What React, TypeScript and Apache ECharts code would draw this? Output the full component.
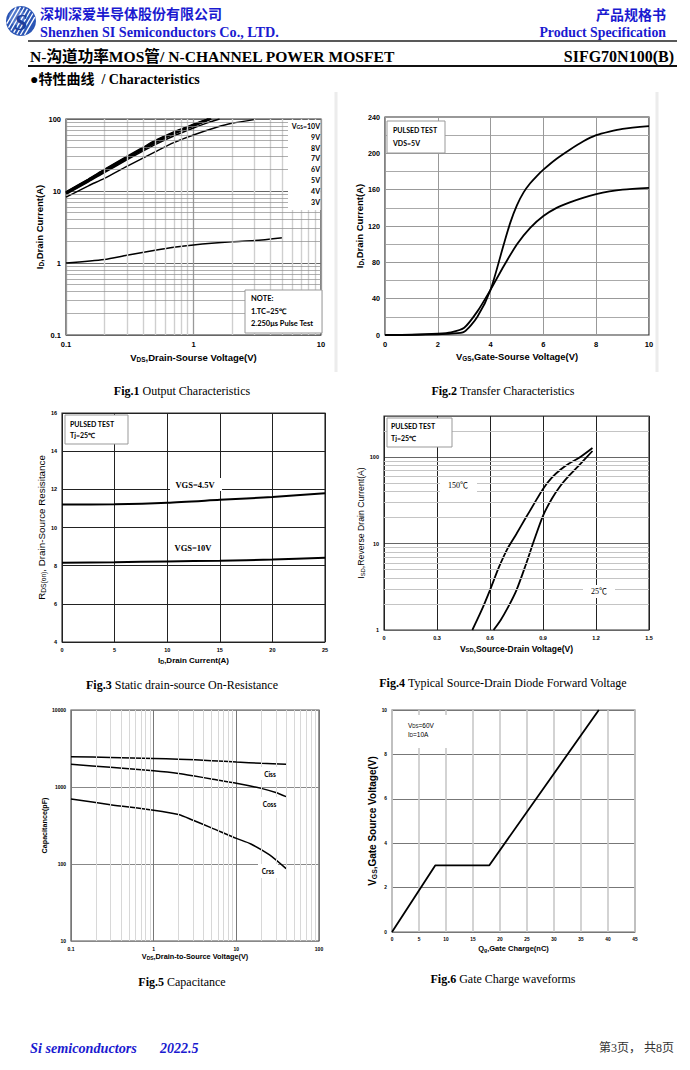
import React, { useEffect, useRef } from "react";
import * as echarts from "echarts";

const SANS = "'Liberation Sans', Arial, sans-serif";
const SERIF = "'Liberation Serif', 'Noto Sans CJK SC', serif";
const CAL = "Lato, 'Liberation Sans', sans-serif";
const CJK = "'Noto Sans CJK SC', sans-serif";
const BLUE = "#1a1ad0";

// ---------- Fig.1 Output characteristics (log-log) ----------
const fig1Vgs10 = [[0.1, 9.7], [0.15, 14.6], [0.2, 19.8], [0.3, 30], [0.4, 40], [0.5, 50], [0.7, 66], [1.0, 84], [1.3, 100]];
const fig1Vgs9 = [[0.1, 9.6], [0.15, 14.4], [0.2, 19.5], [0.3, 29.5], [0.4, 39.3], [0.5, 49], [0.7, 65], [1.0, 83], [1.32, 100]];
const fig1Vgs8 = [[0.1, 9.5], [0.15, 14.2], [0.2, 19.2], [0.3, 29], [0.4, 38.5], [0.5, 48], [0.7, 64], [1.0, 82], [1.34, 100]];
const fig1Vgs7 = [[0.1, 9.4], [0.15, 14], [0.2, 19], [0.3, 28.6], [0.4, 38], [0.5, 47.3], [0.7, 63], [1.0, 81], [1.36, 100]];
const fig1Vgs6 = [[0.1, 9.3], [0.15, 13.8], [0.2, 18.7], [0.3, 28.2], [0.4, 37.4], [0.5, 46.6], [0.7, 62], [1.0, 80], [1.38, 100]];
const fig1Vgs5 = [[0.1, 9.0], [0.15, 13.4], [0.2, 18], [0.3, 27], [0.5, 44], [0.7, 58], [1.0, 75], [1.3, 89], [1.6, 100]];
const fig1Vgs4 = [[0.1, 8.2], [0.15, 11.8], [0.2, 15], [0.3, 22], [0.5, 35], [0.7, 47], [1.0, 60], [1.5, 76], [2.0, 87], [3.0, 98]];
const fig1Vgs3 = [[0.1, 1.0], [0.2, 1.12], [0.3, 1.28], [0.5, 1.5], [0.7, 1.65], [1.0, 1.78], [2.0, 1.97], [3.0, 2.05], [5.0, 2.25]];
const fig1MinorX = [0.2, 0.3, 0.4, 0.5, 0.6, 0.7, 0.8, 0.9, 2, 3, 4, 5, 6, 7, 8, 9];
const fig1MinorY = [0.2, 0.3, 0.4, 0.5, 0.6, 0.7, 0.8, 0.9, 2, 3, 4, 5, 6, 7, 8, 9, 20, 30, 40, 50, 60, 70, 80, 90];
const fig1Legend = ["=10V", "9V", "8V", "7V", "6V", "5V", "4V", "3V"];

// ---------- Fig.2 Transfer characteristics ----------
const fig2Curve25 = [[0, 0], [1, 0.2], [2, 0.8], [2.5, 1.5], [3, 3.5], [3.5, 20], [4, 50], [4.5, 100], [4.75, 124], [5, 143], [5.25, 157], [5.5, 167], [5.75, 175], [6, 182], [6.5, 194], [7, 204], [7.5, 213], [8, 220], [8.5, 224], [9, 227], [10, 230]];
const fig2Curve150 = [[0, 0], [1, 0.3], [2, 1.5], [2.5, 3], [3, 8], [3.5, 26], [4, 50], [4.5, 76], [5, 100], [5.5, 118], [6, 131], [6.5, 140], [7, 146], [7.5, 151], [8, 155], [8.5, 158], [9, 160], [10, 162]];

// ---------- Fig.3 On-resistance ----------
const fig3Vgs45 = [[0, 11.2], [5, 11.22], [10, 11.3], [15, 11.45], [20, 11.6], [25, 11.8]];
const fig3Vgs10 = [[0, 8.15], [5, 8.18], [10, 8.22], [15, 8.26], [20, 8.32], [25, 8.42]];

// ---------- Fig.4 Diode forward voltage ----------
const fig4T150 = [[0.5, 1], [0.55, 1.65], [0.6, 2.9], [0.65, 5.3], [0.7, 8.8], [0.75, 13], [0.8, 19.5], [0.85, 29], [0.9, 43], [0.95, 58], [1.0, 72], [1.05, 85], [1.1, 97], [1.18, 128]];
const fig4T25 = [[0.62, 1], [0.66, 1.3], [0.7, 1.8], [0.75, 2.9], [0.8, 5.5], [0.85, 11], [0.9, 21], [0.95, 33], [1.0, 47], [1.05, 62], [1.1, 79], [1.18, 118]];
const fig4MinorY = [2, 3, 4, 5, 6, 7, 8, 9, 20, 30, 40, 50, 60, 70, 80, 90, 200];

// ---------- Fig.5 Capacitance ----------
const fig5Ciss = [[0.1, 2480], [0.3, 2420], [1, 2350], [2, 2300], [5, 2200], [10, 2110], [20, 2030], [40, 1970]];
const fig5Coss = [[0.1, 1970], [0.3, 1800], [1, 1620], [2, 1500], [3, 1400], [5, 1270], [10, 1120], [20, 960], [30, 850], [40, 750]];
const fig5Crss = [[0.1, 700], [0.3, 590], [1, 500], [2, 440], [3, 370], [5, 295], [10, 215], [15, 182], [25, 132], [40, 87]];
const fig5MinorX = [0.2, 0.3, 0.4, 0.5, 0.6, 0.7, 0.8, 0.9, 2, 3, 4, 5, 6, 7, 8, 9, 20, 30, 40, 50, 60, 70, 80, 90];

// ---------- Fig.6 Gate charge ----------
const fig6Qg = [[0, 0], [8, 3], [18, 3], [38.3, 10]];

function fmtNum(v: number) {
  return String(+Number(v).toPrecision(6));
}

function richName(size: number, weight: string) {
  return {
    rich: {
      m: { fontSize: size, fontWeight: weight, fontFamily: SANS, color: "#000" },
      s: { fontSize: size * 0.68, fontWeight: weight, fontFamily: SANS, color: "#000", verticalAlign: "bottom", padding: [size * 0.35, 0, 0, 0] },
    },
  };
}

function axisLbl(size: number, extra: any = {}) {
  return { fontSize: size, fontWeight: "bold", fontFamily: SANS, color: "#000", margin: 5, ...extra };
}

function curve(data: number[][], gi: number, width: number, smooth: any = 0.25, z = 3) {
  return {
    type: "line",
    xAxisIndex: gi,
    yAxisIndex: gi,
    data,
    smooth,
    symbol: "none",
    showSymbol: false,
    z,
    lineStyle: { color: "#000", width },
    silent: true,
  };
}

function gridLines(gi: number, anchor: number[], xs: number[], ys: number[], xStyle: any, yStyle: any) {
  return {
    type: "line",
    xAxisIndex: gi,
    yAxisIndex: gi,
    data: [anchor],
    symbol: "none",
    showSymbol: false,
    lineStyle: { opacity: 0 },
    z: 1,
    silent: true,
    markLine: {
      silent: true,
      symbol: "none",
      animation: false,
      label: { show: false },
      data: [
        ...xs.map((v) => ({ xAxis: v, lineStyle: { type: "solid", ...xStyle } })),
        ...ys.map((v) => ({ yAxis: v, lineStyle: { type: "solid", ...yStyle } })),
      ],
    },
  };
}

function txt(x: number, y: number, text: string, o: any = {}) {
  const style: any = {
    text,
    fill: o.fill || "#000",
    fontSize: o.size || 10,
    fontWeight: o.weight || "normal",
    fontStyle: o.italic ? "italic" : "normal",
    fontFamily: o.family || SANS,
    align: o.align || "left",
    verticalAlign: o.va || "middle",
  };
  if (o.rich) style.rich = o.rich;
  return { type: "text", x, y, z: 100, silent: true, style };
}

function box(x: number, y: number, w: number, h: number, stroke: string | null) {
  const style: any = { fill: "#fff" };
  if (stroke) {
    style.stroke = stroke;
    style.lineWidth = 1;
  }
  return { type: "rect", z: 99, silent: true, shape: { x, y, width: w, height: h }, style };
}

function caption(cx: number, y: number, fig: string, rest: string) {
  return txt(cx, y, `{b|${fig}} ${rest}`, {
    align: "center",
    size: 12,
    family: SERIF,
    rich: { b: { fontWeight: "bold", fontSize: 12, fontFamily: SERIF, fill: "#000" } },
  });
}

function logo() {
  const cx = 21, cy = 21, r = 15;
  const children: any[] = [
    { type: "circle", shape: { cx, cy, r }, style: { fill: "#2b55b5" } },
    { type: "circle", shape: { cx: cx - 4, cy: cy - 4, r: 8 }, style: { fill: "#6f93dc", opacity: 0.6 } },
  ];
  const a = (60 * Math.PI) / 180;
  const u = [Math.cos(a), -Math.sin(a)];
  const n = [Math.sin(a), Math.cos(a)];
  [-11, -7.5, -4, -0.5, 3, 6.5, 10].forEach((o) => {
    const h = Math.sqrt(r * r - o * o) * 0.92;
    children.push({
      type: "line",
      shape: {
        x1: cx + n[0] * o - u[0] * h, y1: cy + n[1] * o - u[1] * h,
        x2: cx + n[0] * o + u[0] * h, y2: cy + n[1] * o + u[1] * h,
      },
      style: { stroke: "#fff", lineWidth: 1.3 },
    });
  });
  children.push({
    type: "text",
    x: cx,
    y: cy + 1,
    style: { text: "S", fontSize: 24, fontWeight: "bold", fontStyle: "italic", fontFamily: SERIF, fill: "#1f3f9c", align: "center", verticalAlign: "middle" },
  });
  return { type: "group", id: "logo", x: 0, y: 0, z: 120, silent: true, children };
}

function buildOption() {
  const grids = [
    { left: 66, top: 119, width: 255, height: 216, borderColor: "#333" },
    { left: 385, top: 117, width: 264, height: 218, borderColor: "#333" },
    { left: 62, top: 413, width: 263, height: 229, borderColor: "#333" },
    { left: 384, top: 416, width: 265, height: 214, borderColor: "#333" },
    { left: 71, top: 710, width: 248, height: 231, borderColor: "#555" },
    { left: 392, top: 710, width: 243, height: 222, borderColor: "#666" },
  ].map((g) => ({ ...g, show: true, borderWidth: 1.2, backgroundColor: "transparent", containLabel: false }));

  const base = { axisTick: { show: false }, axisLine: { show: false }, nameLocation: "middle" };

  const xAxis: any[] = [
    {
      ...base, gridIndex: 0, type: "log", min: 0.1, max: 10, logBase: 10,
      axisLabel: axisLbl(7.5, { formatter: fmtNum }),
      splitLine: { show: true, lineStyle: { color: "#999", width: 1.3 } },
      name: "{m|V}{s|DS}{m|,Drain-Sourse Voltage(V)}", nameGap: 17, nameTextStyle: richName(9.5, "bold"),
    },
    {
      ...base, gridIndex: 1, type: "value", min: 0, max: 10, interval: 2,
      axisLabel: axisLbl(7.5),
      splitLine: { show: true, lineStyle: { color: "#999", width: 1 } },
      name: "{m|V}{s|GS}{m|,Gate-Sourse Voltage(V)}", nameGap: 17, nameTextStyle: richName(9.4, "bold"),
    },
    {
      ...base, gridIndex: 2, type: "value", min: 0, max: 25, interval: 5,
      axisLabel: axisLbl(5.5),
      splitLine: { show: true, lineStyle: { color: "#222", width: 1 } },
      name: "{m|I}{s|D}{m|,Drain Current(A)}", nameGap: 14, nameTextStyle: richName(8, "bold"),
    },
    {
      ...base, gridIndex: 3, type: "value", min: 0, max: 1.5, interval: 0.3,
      axisLabel: axisLbl(5.5, { formatter: fmtNum }),
      splitLine: { show: true, lineStyle: { color: "#222", width: 1 } },
      name: "{m|V}{s|SD}{m|,Source-Drain Voltage(V)}", nameGap: 14, nameTextStyle: richName(8.5, "bold"),
    },
    {
      ...base, gridIndex: 4, type: "log", min: 0.1, max: 100, logBase: 10,
      axisLabel: axisLbl(5, { formatter: fmtNum }),
      splitLine: { show: true, lineStyle: { color: "#777", width: 1 } },
      name: "{m|V}{s|DS}{m|,Drain-to-Source Voltage(V)}", nameGap: 12, nameTextStyle: richName(7.3, "bold"),
    },
    {
      ...base, gridIndex: 5, type: "value", min: 0, max: 45, interval: 5,
      axisLabel: axisLbl(4.8),
      splitLine: { show: true, lineStyle: { color: "#c8c8c8", width: 1.6 } },
      name: "{m|Q}{s|g}{m|,Gate Charge(nC)}", nameGap: 12, nameTextStyle: richName(7.5, "bold"),
    },
  ];

  const yAxis: any[] = [
    {
      ...base, gridIndex: 0, type: "log", min: 0.1, max: 100, logBase: 10,
      axisLabel: axisLbl(7.5, { formatter: fmtNum }),
      splitLine: { show: true, lineStyle: { color: "#666", width: 1 } },
      name: "{m|I}{s|D}{m|,Drain Current(A)}", nameGap: 21, nameTextStyle: richName(9.5, "bold"),
    },
    {
      ...base, gridIndex: 1, type: "value", min: 0, max: 240, interval: 40,
      axisLabel: axisLbl(7.2),
      splitLine: { show: true, lineStyle: { color: "#999", width: 1 } },
      minorTick: { show: false, splitNumber: 2 },
      minorSplitLine: { show: true, lineStyle: { color: "#aaa", width: 1 } },
      name: "{m|I}{s|D}{m|,Drain Current(A)}", nameGap: 20, nameTextStyle: richName(9.5, "bold"),
    },
    {
      ...base, gridIndex: 2, type: "value", min: 4, max: 16, interval: 2,
      axisLabel: axisLbl(5.5),
      splitLine: { show: true, lineStyle: { color: "#222", width: 1 } },
      name: "{m|R}{s|DS(on)}{m|, Drain-Source Resisitance}", nameGap: 15, nameTextStyle: richName(9.8, "normal"),
    },
    {
      ...base, gridIndex: 3, type: "log", min: 1, max: 300, logBase: 10,
      axisLabel: axisLbl(5.5, { formatter: (v: number) => ([1, 10, 100].includes(+fmtNum(v)) ? fmtNum(v) : "") }),
      splitLine: { show: true, lineStyle: { color: "#666", width: 1.2 } },
      name: "{m|I}{s|SD}{m|,Reverse Drain Current(A)}", nameGap: 18, nameTextStyle: richName(8.7, "normal"),
    },
    {
      ...base, gridIndex: 4, type: "log", min: 10, max: 10000, logBase: 10,
      axisLabel: axisLbl(5, { formatter: fmtNum }),
      splitLine: { show: true, lineStyle: { color: "#888", width: 1 } },
      name: "Capacitance(pF)", nameGap: 21, nameTextStyle: { fontSize: 7.2, fontWeight: "bold", fontFamily: SANS, color: "#000" },
    },
    {
      ...base, gridIndex: 5, type: "value", min: 0, max: 10, interval: 2,
      axisLabel: axisLbl(4.8),
      splitLine: { show: true, lineStyle: { color: "#777", width: 1 } },
      name: "{m|V}{s|GS}{m|,Gate Source Voltage(V)}", nameGap: 11, nameTextStyle: richName(10, "bold"),
    },
  ];

  const series: any[] = [
    gridLines(0, [0.1, 1], fig1MinorX, fig1MinorY, { color: "#cfcfcf", width: 1.4 }, { color: "#8c8c8c", width: 0.7 }),
    curve(fig1Vgs10, 0, 1.8),
    curve(fig1Vgs9, 0, 1.8),
    curve(fig1Vgs8, 0, 1.8),
    curve(fig1Vgs7, 0, 1.8),
    curve(fig1Vgs6, 0, 1.8),
    curve(fig1Vgs5, 0, 1.5),
    curve(fig1Vgs4, 0, 1.5),
    curve(fig1Vgs3, 0, 1.5),

    curve(fig2Curve25, 1, 1.8),
    curve(fig2Curve150, 1, 1.8),

    curve(fig3Vgs45, 2, 2),
    curve(fig3Vgs10, 2, 2),

    gridLines(3, [0, 1], [], fig4MinorY, {}, { color: "#c4c4c4", width: 1 }),
    curve(fig4T150, 3, 1.8),
    curve(fig4T25, 3, 1.8),

    gridLines(4, [0.1, 10], fig5MinorX, [], { color: "#d8d8d8", width: 1 }, {}),
    curve(fig5Ciss, 4, 1.5),
    curve(fig5Coss, 4, 1.5),
    curve(fig5Crss, 4, 1.5),

    curve(fig6Qg, 5, 1.8, false),
  ];

  const legendRich = {
    m: { fontSize: 7, fontWeight: "bold", fontFamily: CAL, fill: "#000" },
    s: { fontSize: 5, fontWeight: "bold", fontFamily: CAL, fill: "#000", verticalAlign: "bottom" },
  };
  const smallRich = {
    m: { fontSize: 6.5, fontFamily: SANS, fill: "#000" },
    s: { fontSize: 4.5, fontFamily: SANS, fill: "#000", verticalAlign: "bottom" },
  };

  const graphic: any[] = [
    // scan artifacts
    { type: "line", z: 0, silent: true, shape: { x1: 336, y1: 92, x2: 336, y2: 372 }, style: { stroke: "#ececec", lineWidth: 3 } },
    { type: "line", z: 0, silent: true, shape: { x1: 657, y1: 92, x2: 657, y2: 372 }, style: { stroke: "#ececec", lineWidth: 3 } },

    txt(40, 13, "深圳深爱半导体股份有限公司", { size: 14, weight: "bold", family: CJK, fill: BLUE }),
    txt(40, 32, "Shenzhen SI Semiconductors Co., LTD.", { size: 14.2, weight: "bold", family: SERIF, fill: BLUE }),
    txt(666, 14, "产品规格书", { size: 14, weight: "bold", family: CJK, fill: BLUE, align: "right" }),
    txt(666, 32, "Product Specification", { size: 13.8, weight: "bold", family: SERIF, fill: BLUE, align: "right" }),
    { type: "line", z: 100, silent: true, shape: { x1: 28, y1: 41, x2: 677, y2: 41 }, style: { stroke: "#222", lineWidth: 1.3 } },
    txt(30, 56, "N-沟道功率MOS管/ N-CHANNEL POWER MOSFET", { size: 15.6, weight: "bold", family: SERIF }),
    txt(674, 56, "SIFG70N100(B)", { size: 16, weight: "bold", family: SERIF, align: "right" }),
    { type: "line", z: 100, silent: true, shape: { x1: 28, y1: 66, x2: 677, y2: 66 }, style: { stroke: "#111", lineWidth: 2 } },
    txt(30, 79, "●特性曲线  / Characteristics", { size: 14, weight: "bold", family: SERIF }),

    // Fig.1 legend and note
    box(288, 120, 32.5, 90, null),
    ...fig1Legend.map((t, i) =>
      txt(320, 126 + i * 10.8, i === 0 ? `{m|V}{s|GS}{m|${t}}` : `{m|${t}}`, { align: "right", rich: legendRich, size: 7, family: CAL, weight: "bold" })
    ),
    box(245, 290, 77, 43, "#999"),
    txt(251, 298, "NOTE:", { size: 7.5, weight: "bold", family: CAL }),
    txt(251, 311, "1.TC=25℃", { size: 7.5, weight: "bold", family: CAL }),
    txt(251, 323.5, "2.250μs Pulse Test", { size: 7.5, weight: "bold", family: CAL }),

    // Fig.2 box
    box(387, 121, 58, 32, "#999"),
    txt(393, 130, "PULSED TEST", { size: 7, weight: "bold", family: CAL }),
    txt(393, 143, "VDS=5V", { size: 7, weight: "bold", family: CAL }),

    // Fig.3 annotations
    box(65, 415, 63, 29, "#999"),
    txt(70, 424, "PULSED TEST", { size: 7, weight: "bold", family: CAL }),
    txt(70, 435, "Tj=25℃", { size: 7, weight: "bold", family: CAL }),
    box(170, 478, 52, 13, null),
    txt(195, 484.5, "VGS=4.5V", { size: 8.5, weight: "bold", family: SERIF, align: "center" }),
    txt(193, 548, "VGS=10V", { size: 8.5, weight: "bold", family: SERIF, align: "center" }),

    // Fig.4 annotations
    box(387, 418, 65, 29, "#999"),
    txt(391, 426, "PULSED TEST", { size: 7, weight: "bold", family: CAL }),
    txt(391, 437.5, "Tj=25℃", { size: 7, weight: "bold", family: CAL }),
    box(440, 478, 37, 15, null),
    txt(458, 485.5, "150℃", { size: 8, family: SERIF, align: "center" }),
    box(583, 585, 32, 13, null),
    txt(599, 591.5, "25℃", { size: 8, family: SERIF, align: "center" }),

    // Fig.5 annotations
    box(260, 767, 20, 13, null),
    txt(270, 774, "Ciss", { size: 6.5, weight: "bold", family: CAL, align: "center" }),
    box(259, 797, 21, 13, null),
    txt(269.5, 804, "Coss", { size: 6.5, weight: "bold", family: CAL, align: "center" }),
    box(258, 864, 20, 14, null),
    txt(268, 871, "Crss", { size: 6.5, weight: "bold", family: CAL, align: "center" }),

    // Fig.6 annotations
    box(402, 715, 45, 33, null),
    txt(408, 725, "{m|V}{s|DS}{m|=60V}", { size: 6.5, family: SANS, rich: smallRich }),
    txt(408, 734.5, "{m|I}{s|D}{m|=10A}", { size: 6.5, family: SANS, rich: smallRich }),

    // captions
    caption(182, 391, "Fig.1", "Output Characteristics"),
    caption(503, 391, "Fig.2", "Transfer Characteristics"),
    caption(182, 685, "Fig.3", "Static drain-source On-Resistance"),
    caption(503, 683, "Fig.4", "Typical Source-Drain Diode Forward Voltage"),
    caption(182, 982, "Fig.5", "Capacitance"),
    caption(503, 979, "Fig.6", "Gate Charge waveforms"),

    // footer
    txt(30, 1048, "Si semiconductors", { size: 14.2, weight: "bold", italic: true, family: SERIF, fill: BLUE }),
    txt(160, 1048, "2022.5", { size: 14, weight: "bold", italic: true, family: SERIF, fill: BLUE }),
    txt(674, 1048, "第3页， 共8页", { size: 12, family: "'Liberation Serif', 'Noto Sans CJK SC', serif", fill: "#333", align: "right" }),

    logo(),
  ];

  return {
    animation: false,
    backgroundColor: "#fff",
    grid: grids,
    xAxis,
    yAxis,
    series,
    graphic: { elements: graphic },
  };
}

export default function App() {
  const ref = useRef<HTMLDivElement>(null);
  useEffect(() => {
    if (!ref.current) return;
    const chart = echarts.init(ref.current, null, { renderer: "svg" });
    chart.setOption(buildOption() as any);
    return () => chart.dispose();
  }, []);
  return <div ref={ref} style={{ position: "absolute", left: 0, top: 0, width: 690, height: 1070 }} />;
}
